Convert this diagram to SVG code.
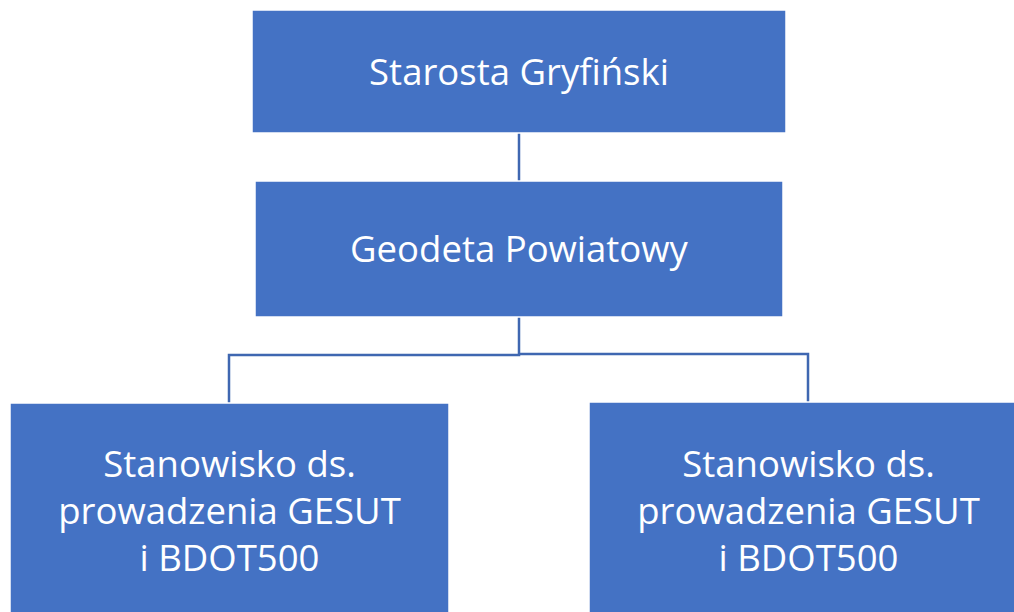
<svg xmlns="http://www.w3.org/2000/svg" width="1014" height="612" viewBox="0 0 1014 612">
<style>
.box{fill:#4472C4;stroke:#ffffff;stroke-width:1.5}
.t{fill:#ffffff;font-family:"Open Sans","Noto Sans","Liberation Sans",sans-serif;font-size:36.5px;text-anchor:middle}
.c{fill:none;stroke:#3F67B1;stroke-width:2.5}
</style>
<rect width="1014" height="612" fill="#ffffff"/>
<g id="connectors">
<line class="c" x1="519" y1="133" x2="519" y2="181"/>
<polyline class="c" points="519,317 519,355 229,355 229,403"/>
<polyline class="c" points="519,354 808,354 808,403"/>
</g>
<g id="starosta">
<rect class="box" x="252" y="10" width="534" height="123"/>
<text class="t" x="519" y="85">Starosta Gryfiński</text>
</g>
<g id="geodeta">
<rect class="box" x="255" y="181" width="528" height="136"/>
<text class="t" x="519" y="262">Geodeta Powiatowy</text>
</g>
<g id="stanowisko1">
<rect class="box" x="10" y="403" width="439" height="215"/>
<text class="t" x="229.5" y="477">Stanowisko ds.</text>
<text class="t" x="229.5" y="524">prowadzenia GESUT</text>
<text class="t" x="229.5" y="571">i BDOT500</text>
</g>
<g id="stanowisko2">
<rect class="box" x="589" y="402" width="439" height="216"/>
<text class="t" x="808.5" y="477">Stanowisko ds.</text>
<text class="t" x="808.5" y="524">prowadzenia GESUT</text>
<text class="t" x="808.5" y="571">i BDOT500</text>
</g>
</svg>
